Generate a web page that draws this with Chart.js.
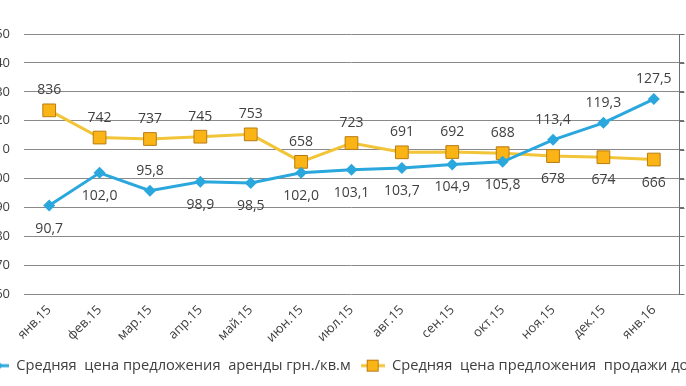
<!DOCTYPE html>
<html>
<head>
<meta charset="utf-8">
<script src="https://cdn.jsdelivr.net/npm/chart.js@4/dist/chart.umd.min.js"></script>
<style>
  html, body { margin: 0; padding: 0; background: #fff; overflow: hidden; }
  #wrap { position: absolute; left: -25px; top: 0; width: 900px; height: 386px; }
</style>
</head>
<body>
<div id="wrap"><canvas id="chart"></canvas></div>
<script>
const months = ['янв.15', 'фев.15', 'мар.15', 'апр.15', 'май.15', 'июн.15', 'июл.15',
                'авг.15', 'сен.15', 'окт.15', 'ноя.15', 'дек.15', 'янв.16'];
const rentUah = [90.7, 102.0, 95.8, 98.9, 98.5, 102.0, 103.1, 103.7, 104.9, 105.8, 113.4, 119.3, 127.5];
const saleUsd = [836, 742, 737, 745, 753, 658, 723, 691, 692, 688, 678, 674, 666];
const rentLabelSide = ['below', 'below', 'above', 'below', 'below', 'below', 'below',
                       'below', 'below', 'below', 'above', 'above', 'above'];
const saleLabelSide = ['above', 'above', 'above', 'above', 'above', 'above', 'above',
                       'above', 'above', 'above', 'below', 'below', 'below'];
const rentAxis = { min: 60, max: 150, step: 10 };
const saleAxis = { min: 200, max: 1100, step: 100 };
const rentName = 'Средняя  цена предложения  аренды грн./кв.м';
const saleName = 'Средняя  цена предложения  продажи долл.США/кв.м';

const BLUE = '#2aa7dd';
const GOLD = '#f2c437';
const SQUARE = '#fbb416';
const SQUARE_EDGE = '#b97b12';
const TEXT = '#404040';
const GRID = '#8a8a8a';
const AXIS = '#6f6f6f';
const FONT = '"Open Sans", sans-serif';

// little line+marker pictures for the legend, like Excel draws them
function legendMark(kind) {
    const c = document.createElement('canvas');
    c.width = 24; c.height = 14;
    const g = c.getContext('2d');
    g.strokeStyle = kind === 'diamond' ? BLUE : GOLD;
    g.lineWidth = 3;
    g.beginPath(); g.moveTo(0, 7); g.lineTo(24, 7); g.stroke();
    if (kind === 'diamond') {
        g.fillStyle = BLUE;
        g.beginPath(); g.moveTo(12, 1); g.lineTo(18, 7); g.lineTo(12, 13); g.lineTo(6, 7); g.closePath(); g.fill();
    } else {
        g.fillStyle = SQUARE; g.strokeStyle = SQUARE_EDGE; g.lineWidth = 1;
        g.fillRect(6.5, 1.5, 11, 11); g.strokeRect(6.5, 1.5, 11, 11);
    }
    return c;
}

const valueLabels = {
    id: 'valueLabels',
    afterDatasetsDraw(chart) {
        const ctx = chart.ctx;
        ctx.save();
        ctx.font = '14px ' + FONT;
        ctx.fillStyle = TEXT;
        ctx.textAlign = 'center';
        ctx.textBaseline = 'middle';
        chart.data.datasets.forEach((ds, i) => {
            chart.getDatasetMeta(i).data.forEach((pt, j) => {
                const up = ds.labelSide[j] === 'above';
                ctx.fillText(ds.format(ds.data[j]), pt.x, pt.y + (up ? -20 : 23));
            });
        });
        ctx.restore();
    }
};

// secondary axis line with small outer ticks, taken from the y2 scale
const rightAxisLine = {
    id: 'rightAxisLine',
    afterDraw(chart) {
        const s = chart.scales.y2;
        const ctx = chart.ctx;
        const x = Math.round(s.left) + 0.5;
        ctx.save();
        ctx.strokeStyle = AXIS;
        ctx.lineWidth = 1;
        ctx.beginPath();
        ctx.moveTo(x, s.top);
        ctx.lineTo(x, s.bottom);
        s.ticks.forEach((t, i) => {
            const y = Math.round(s.getPixelForTick(i)) + 0.5;
            ctx.moveTo(x, y);
            ctx.lineTo(x + 5, y);
        });
        ctx.stroke();
        ctx.restore();
    }
};

const ctx = document.getElementById('chart').getContext('2d');
new Chart(ctx, {
    type: 'line',
    data: {
        labels: months,
        datasets: [{
            label: rentName,
            data: rentUah,
            yAxisID: 'y',
            borderColor: BLUE,
            backgroundColor: BLUE,
            borderWidth: 3,
            pointStyle: 'rectRot',
            pointRadius: 6,
            pointBorderWidth: 0,
            tension: 0,
            labelSide: rentLabelSide,
            format: v => v.toFixed(1).replace('.', ',')
        }, {
            label: saleName,
            data: saleUsd,
            yAxisID: 'y2',
            borderColor: GOLD,
            backgroundColor: SQUARE,
            pointBorderColor: SQUARE_EDGE,
            borderWidth: 3,
            pointStyle: 'rect',
            pointRadius: 9,
            pointBorderWidth: 1,
            tension: 0,
            labelSide: saleLabelSide,
            format: v => String(v)
        }]
    },
    options: {
        responsive: true,
        maintainAspectRatio: false,
        animation: false,
        layout: { padding: { top: 34, left: 0, right: 0, bottom: 3 } },
        plugins: {
            tooltip: { enabled: false },
            legend: {
                position: 'bottom',
                align: 'start',
                labels: {
                    usePointStyle: true,
                    pointStyleWidth: 24,
                    padding: 10,
                    color: TEXT,
                    font: { family: FONT, size: 14.67 },
                    generateLabels: chart => chart.data.datasets.map((ds, i) => ({
                        text: ds.label,
                        pointStyle: legendMark(i === 0 ? 'diamond' : 'square'),
                        fillStyle: 'transparent',
                        strokeStyle: 'transparent',
                        lineWidth: 0,
                        fontColor: TEXT,
                        datasetIndex: i,
                        hidden: false
                    }))
                }
            }
        },
        scales: {
            x: {
                offset: true,
                grid: { display: false, drawTicks: false },
                border: { display: false },
                afterFit: s => { s.height = 54; },
                ticks: {
                    autoSkip: false,
                    minRotation: 45,
                    maxRotation: 45,
                    padding: 8,
                    color: TEXT,
                    font: { family: FONT, size: 13 }
                }
            },
            y: {
                position: 'left',
                min: rentAxis.min,
                max: rentAxis.max,
                afterFit: s => { s.width = 49; },
                ticks: {
                    stepSize: rentAxis.step,
                    padding: 14,
                    color: TEXT,
                    font: { family: FONT, size: 13 }
                },
                grid: { color: GRID, lineWidth: 1, drawTicks: false },
                border: { display: false }
            },
            y2: {
                position: 'right',
                min: saleAxis.min,
                max: saleAxis.max,
                afterFit: s => { s.width = 196; },
                ticks: {
                    stepSize: saleAxis.step,
                    padding: 6,
                    color: TEXT,
                    font: { family: FONT, size: 13 }
                },
                grid: { drawOnChartArea: false, color: AXIS, tickLength: 5 },
                border: { display: true, color: AXIS, width: 1 }
            }
        }
    },
    plugins: [valueLabels, rightAxisLine]
});
</script>
</body>
</html>
